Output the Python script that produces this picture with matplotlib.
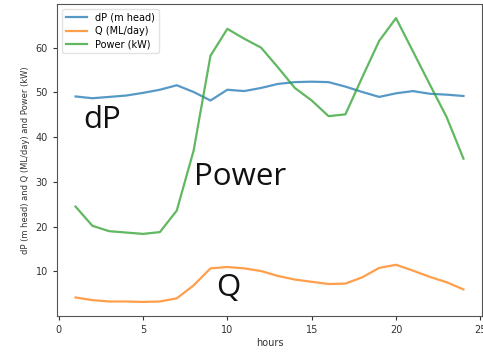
import matplotlib
matplotlib.use("Agg")
import matplotlib.pyplot as plt

hours = list(range(1, 25))
dP = [49.1, 48.7, 49.0, 49.3, 49.9, 50.6, 51.6, 50.1, 48.2, 50.6, 50.3, 51.0,
      51.9, 52.3, 52.4, 52.3, 51.3, 50.1, 49.0, 49.8, 50.3, 49.7, 49.5, 49.2]
Q = [4.2, 3.6, 3.3, 3.3, 3.2, 3.3, 4.0, 6.9, 10.7, 11.0, 10.7, 10.1,
     9.0, 8.2, 7.7, 7.2, 7.3, 8.7, 10.8, 11.5, 10.2, 8.8, 7.6, 6.0]
power = [24.5, 20.2, 19.0, 18.7, 18.4, 18.8, 23.6, 37.0, 58.2, 64.2, 62.0, 60.0,
         55.6, 51.0, 48.2, 44.7, 45.1, 53.4, 61.5, 66.6, 59.2, 51.8, 44.5, 35.2]

labels = ["dP (m head)", "Q (ML/day)", "Power (kW)"]
annots = ["dP", "Power", "Q"]

fig = plt.figure(figsize=(4.83, 3.56), dpi=100)
ax = fig.add_axes([0.118, 0.112, 0.880, 0.877])
ax.plot(hours, dP, color="#1f77b4", lw=1.6, alpha=0.75, label=labels[0])
ax.plot(hours, Q, color="#ff7f0e", lw=1.6, alpha=0.75, label=labels[1])
ax.plot(hours, power, color="#2ca02c", lw=1.6, alpha=0.75, label=labels[2])

ax.set_xlim(-0.1, 25.1)
ax.set_xticks([0, 5, 10, 15, 20, 25])
ax.set_yticks([10, 20, 30, 40, 50, 60])
ax.tick_params(labelsize=7, colors="#333333", length=3)
for s in ax.spines.values():
    s.set_color("#555555")
ax.set_xlabel("hours", fontsize=7, color="#333333", labelpad=2)
ax.set_ylabel("dP (m head) and Q (ML/day) and Power (kW)", fontsize=6,
              color="#333333", labelpad=4)
leg = ax.legend(loc="upper left", fontsize=7, frameon=True, handlelength=2.2,
                borderpad=0.4, labelspacing=0.35)
leg.get_frame().set_edgecolor("#dddddd")

ax.text(1.45, 42.0, annots[0], fontsize=22.5, family="Open Sans", color="#111111")
ax.text(8.05, 29.3, annots[1], fontsize=22.5, family="Open Sans", color="#111111")
ax.text(9.35, 4.6, annots[2], fontsize=22.5, family="Open Sans", color="#111111")

fig.savefig("out.png", dpi=100)
